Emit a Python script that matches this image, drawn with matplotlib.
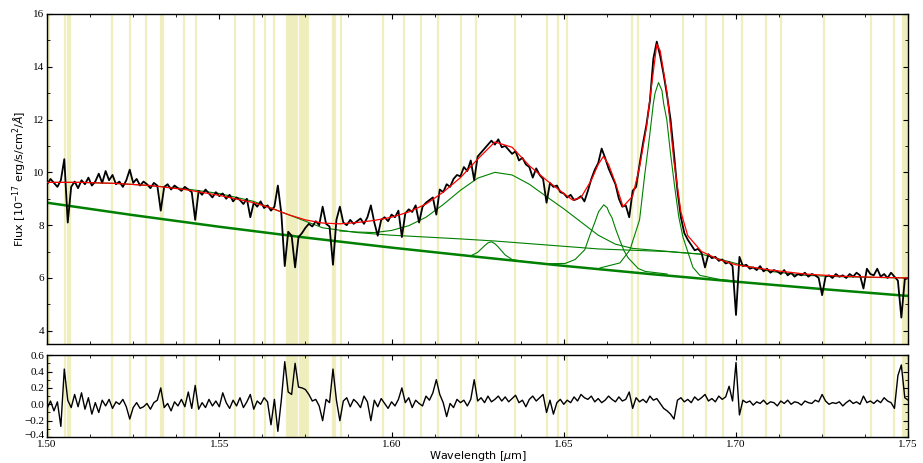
import numpy as np
import matplotlib
matplotlib.use("Agg")
import matplotlib.pyplot as plt
from matplotlib.ticker import MultipleLocator
from matplotlib.transforms import ScaledTranslation

# observed spectrum, 1.500 .. 1.750 um in steps of 0.001
wave_start = 1.500
wave_step = 0.001
flux = [
    9.55, 9.75, 9.60, 9.45, 9.70, 10.50, 8.10, 9.45, 9.65, 9.40,
    9.70, 9.55, 9.80, 9.50, 9.65, 9.95, 9.60, 10.05, 9.70, 9.90,
    9.55, 9.65, 9.45, 9.70, 10.10, 9.60, 9.75, 9.50, 9.65, 9.55,
    9.40, 9.60, 9.50, 8.55, 9.45, 9.55, 9.35, 9.50, 9.40, 9.30,
    9.45, 9.35, 9.25, 8.20, 9.30, 9.15, 9.35, 9.20, 9.05, 9.25,
    9.10, 9.20, 9.00, 9.15, 8.90, 9.05, 8.95, 8.80, 9.00, 8.30,
    8.85, 8.70, 8.90, 8.65, 8.75, 8.55, 8.70, 9.50, 8.45, 6.45,
    7.75, 7.60, 6.40, 7.55, 7.70, 7.90, 8.05, 7.95, 8.15, 8.00,
    8.70, 8.05, 7.95, 6.50, 8.20, 8.70, 8.10, 8.00, 8.20, 8.05,
    8.15, 8.25, 8.05, 8.30, 8.75, 8.10, 7.60, 8.20, 8.30, 8.15,
    8.40, 8.30, 8.55, 7.55, 8.45, 8.60, 8.50, 8.75, 8.10, 8.70,
    8.85, 8.95, 9.05, 8.40, 9.35, 9.25, 9.55, 9.45, 9.75, 9.90,
    9.85, 10.20, 10.05, 10.45, 9.70, 10.60, 10.75, 10.90, 11.05, 11.20,
    11.05, 11.25, 10.95, 11.00, 10.85, 10.70, 10.80, 10.45, 10.55, 10.30,
    10.20, 9.80, 10.15, 9.90, 9.75, 8.85, 9.60, 9.45, 9.50, 9.25,
    9.20, 9.05, 9.15, 8.95, 9.00, 9.10, 8.90, 9.30, 9.75, 10.10,
    10.35, 10.90, 10.55, 10.15, 9.85, 9.55, 9.00, 8.70, 8.75, 8.30,
    9.30, 9.45, 10.30, 11.10, 11.80, 12.70, 14.30, 14.95, 14.40, 13.70,
    12.90, 12.00, 10.70, 9.30, 8.30, 7.70, 7.45, 7.25, 7.05, 7.10,
    6.95, 6.40, 6.90, 6.75, 6.80, 6.65, 6.70, 6.55, 6.60, 6.45,
    4.60, 6.80, 6.45, 6.50, 6.35, 6.40, 6.30, 6.45, 6.25, 6.35,
    6.20, 6.30, 6.25, 6.15, 6.30, 6.10, 6.20, 6.05, 6.15, 6.10,
    6.20, 6.05, 6.15, 6.10, 6.00, 5.35, 6.05, 6.10, 6.00, 6.15,
    6.05, 6.10, 6.00, 6.15, 6.05, 6.20, 6.10, 5.60, 6.35, 6.15,
    6.10, 6.35, 6.05, 6.15, 6.00, 6.20, 6.05, 5.90, 4.50, 5.95,
    6.00,
]
resid = [
    -0.05, 0.04, -0.08, 0.03, -0.27, 0.43, 0.05, -0.04, 0.12, -0.03,
    0.14, -0.06, 0.08, -0.12, 0.02, -0.10, 0.05, -0.02, 0.06, -0.05,
    0.03, 0.00, 0.06, -0.03, -0.18, -0.04, 0.02, -0.05, -0.03, 0.01,
    -0.06, 0.02, 0.05, 0.20, -0.04, 0.01, -0.08, 0.03, -0.02, 0.06,
    -0.03, 0.15, -0.05, 0.23, -0.06, 0.02, -0.04, 0.06, -0.02, 0.04,
    -0.03, 0.14, 0.02, -0.05, 0.05, -0.02, 0.08, -0.04, 0.03, 0.12,
    -0.06, 0.04, 0.00, 0.08, 0.03, -0.25, 0.06, -0.33, 0.05, 0.52,
    0.15, 0.12, 0.50, 0.21, 0.20, 0.18, 0.12, 0.04, 0.06, -0.02,
    -0.20, 0.06, 0.02, 0.43, 0.05, -0.20, 0.04, 0.08, -0.03, 0.06,
    0.02, -0.04, 0.10, 0.03, -0.20, 0.05, -0.03, 0.07, 0.01, -0.05,
    0.03, -0.02, 0.06, 0.20, 0.02, 0.08, -0.04, 0.05, 0.01, -0.02,
    0.10, 0.05, 0.14, 0.30, 0.12, 0.02, -0.15, 0.01, -0.04, 0.06,
    0.02, 0.05, -0.02, 0.06, 0.30, 0.04, 0.08, 0.02, 0.10, 0.03,
    0.06, 0.10, 0.04, 0.09, 0.03, 0.07, 0.11, 0.02, 0.05, -0.03,
    0.06, 0.10, 0.04, 0.08, 0.12, -0.10, 0.05, -0.12, 0.02, 0.06,
    0.00, 0.05, 0.02, 0.09, 0.04, 0.12, 0.08, 0.06, 0.10, 0.03,
    0.07, 0.02, 0.05, 0.10, 0.06, 0.03, 0.09, 0.04, 0.06, 0.15,
    -0.05, 0.08, 0.03, 0.06, 0.02, 0.10, 0.05, 0.07, 0.01, -0.05,
    -0.08, -0.12, -0.18, 0.05, 0.08, 0.03, 0.06, 0.02, 0.09, 0.05,
    0.08, 0.12, 0.04, 0.07, 0.03, 0.10, 0.06, 0.09, 0.22, 0.04,
    0.51, -0.13, 0.05, 0.02, 0.04, -0.01, 0.03, 0.01, 0.05, 0.00,
    0.03, 0.02, -0.02, 0.04, 0.01, 0.05, 0.00, 0.03, 0.02, -0.01,
    0.04, 0.02, 0.01, 0.05, 0.03, 0.12, 0.04, 0.00, 0.02, 0.01,
    0.03, -0.02, 0.02, 0.05, 0.01, 0.03, 0.00, 0.10, 0.02, 0.04,
    0.01, 0.05, 0.02, 0.08, 0.04, 0.02, -0.05, 0.35, 0.48, 0.08,
    0.05,
]

# fitted model pieces
pl_wave = [1.500, 1.525, 1.550, 1.575, 1.600, 1.625, 1.650, 1.675, 1.700, 1.725, 1.750]
pl_flux = [8.85, 8.38, 7.94, 7.53, 7.15, 6.80, 6.46, 6.15, 5.86, 5.58, 5.32]

base_wave = [1.500, 1.510, 1.520, 1.530, 1.540, 1.550, 1.560, 1.570, 1.580, 1.590, 1.600,
             1.610, 1.620, 1.630, 1.640, 1.650, 1.660, 1.670, 1.680, 1.690, 1.700,
             1.710, 1.720, 1.730, 1.740, 1.750]
base_flux = [9.62, 9.62, 9.58, 9.50, 9.38, 9.20, 8.90, 8.40, 7.90, 7.72, 7.62,
             7.55, 7.48, 7.40, 7.30, 7.20, 7.10, 7.05, 7.00, 6.90, 6.55,
             6.25, 6.10, 6.05, 6.02, 6.00]

hb_wave = [1.585, 1.590, 1.595, 1.600, 1.605, 1.610, 1.615, 1.620, 1.625, 1.630, 1.635,
           1.640, 1.645, 1.650, 1.655, 1.660, 1.665, 1.670, 1.680, 1.690]
hb_flux = [7.78, 7.74, 7.72, 7.80, 7.98, 8.30, 8.78, 9.32, 9.78, 10.00, 9.90,
           9.55, 9.08, 8.62, 8.12, 7.62, 7.28, 7.12, 7.01, 6.90]

nhb_wave = [1.615, 1.620, 1.623, 1.625, 1.627, 1.628, 1.629, 1.630, 1.631, 1.633, 1.635, 1.638, 1.645]
nhb_flux = [6.94, 6.87, 6.84, 6.97, 7.22, 7.33, 7.37, 7.30, 7.17, 6.87, 6.70, 6.63, 6.53]

o3a_wave = [1.6446, 1.6504, 1.6533, 1.6561, 1.6576, 1.6590, 1.6601, 1.6616, 1.6626, 1.6631,
            1.6640, 1.6651, 1.6663, 1.6675, 1.6687, 1.6716, 1.6736, 1.6800]
o3a_flux = [6.54, 6.55, 6.70, 7.07, 7.63, 8.10, 8.51, 8.77, 8.66, 8.49,
            8.28, 7.84, 7.42, 7.03, 6.76, 6.36, 6.25, 6.15]

o3b_wave = [1.6605, 1.6663, 1.6692, 1.6720, 1.6735, 1.6749, 1.6760, 1.6765, 1.6775, 1.6785,
            1.6790, 1.6799, 1.6810, 1.6822, 1.6834, 1.6846, 1.6875, 1.6895, 1.6950, 1.7000]
o3b_flux = [6.38, 6.57, 7.06, 8.20, 9.90, 11.35, 12.60, 13.00, 13.40, 13.10,
            12.60, 12.00, 10.70, 9.45, 8.30, 7.55, 6.40, 6.10, 5.95, 5.88]

model_wave = [1.500, 1.510, 1.520, 1.530, 1.540, 1.550, 1.560, 1.565, 1.570, 1.575, 1.580,
              1.585, 1.590, 1.595, 1.600, 1.605, 1.610, 1.615, 1.620, 1.625, 1.630,
              1.635, 1.640, 1.645, 1.650, 1.6526, 1.655, 1.658, 1.660, 1.6615, 1.663,
              1.665, 1.6672, 1.670, 1.672, 1.674, 1.6755, 1.677, 1.678, 1.680, 1.682,
              1.684, 1.686, 1.690, 1.695, 1.700, 1.710, 1.720, 1.730, 1.740, 1.750]
model_flux = [9.62, 9.62, 9.58, 9.50, 9.35, 9.13, 8.85, 8.65, 8.40, 8.20, 8.08,
              8.05, 8.10, 8.18, 8.30, 8.50, 8.80, 9.25, 9.80, 10.50, 11.15,
              10.95, 10.25, 9.70, 9.20, 8.95, 9.05, 9.70, 10.30, 10.60, 10.30,
              9.60, 8.70, 9.10, 10.20, 11.70, 13.30, 14.85, 14.60, 13.00, 10.40,
              8.50, 7.60, 7.00, 6.70, 6.50, 6.30, 6.15, 6.07, 6.03, 6.00]

# masked sky lines
sky_lines = [1.5003, 1.5007, 1.5052, 1.5061, 1.5068, 1.5189, 1.5241, 1.5287, 1.5331, 1.5337,
             1.5398, 1.5432, 1.5546, 1.5602, 1.5633, 1.5660, 1.5697, 1.5703, 1.5709, 1.5715,
             1.5721, 1.5727, 1.5733, 1.5739, 1.5745, 1.5751, 1.5757, 1.5830, 1.5836, 1.5852,
             1.5975, 1.6036, 1.6085, 1.6135, 1.6201, 1.6245, 1.6358, 1.6450, 1.6483, 1.6509,
             1.6699, 1.6715, 1.6846, 1.6912, 1.6962, 1.7017, 1.7087, 1.7130, 1.7255, 1.7391,
             1.7458, 1.7484, 1.7490, 1.7496]

wave = wave_start + wave_step * np.arange(len(flux))

plt.rcParams["font.family"] = ["Liberation Serif", "DejaVu Serif"]
plt.rcParams["mathtext.fontset"] = "dejavusans"

fig = plt.figure(figsize=(9.23, 4.63), dpi=100)
ax = fig.add_axes([0.051, 0.257, 0.933, 0.713])
axr = fig.add_axes([0.051, 0.056, 0.933, 0.177])

green = "#008000"
for a in (ax, axr):
    for w in sky_lines:
        a.axvline(w, color="#ecebb0", lw=1.6, alpha=0.8, zorder=0)

ax.plot(pl_wave, pl_flux, color=green, lw=1.8, zorder=2)
ax.plot(base_wave, base_flux, color=green, lw=0.8, zorder=2)
ax.plot(hb_wave, hb_flux, color=green, lw=0.8, zorder=2)
ax.plot(nhb_wave, nhb_flux, color=green, lw=0.8, zorder=2)
ax.plot(o3a_wave, o3a_flux, color=green, lw=0.8, zorder=2)
ax.plot(o3b_wave, o3b_flux, color=green, lw=0.8, zorder=2)
ax.plot(wave, flux, color="black", lw=1.3, zorder=3)
ax.plot(model_wave, model_flux, color="red", lw=0.9, zorder=4)

axr.plot(wave, resid, color="black", lw=1.0, zorder=3)

ax.set_xlim(1.50, 1.75)
ax.set_ylim(3.5, 16)
axr.set_xlim(1.50, 1.75)
axr.set_ylim(-0.4, 0.6)

for a in (ax, axr):
    a.xaxis.set_major_locator(MultipleLocator(0.05))
    a.xaxis.set_minor_locator(MultipleLocator(0.0125))
    a.tick_params(which="both", direction="in", top=True, right=True, labelsize=8, pad=2)
    a.tick_params(which="major", length=3.5, width=0.8)
    a.tick_params(which="minor", length=2, width=0.6)
    for s in a.spines.values():
        s.set_linewidth(1.0)

ax.yaxis.set_major_locator(MultipleLocator(2))
ax.yaxis.set_minor_locator(MultipleLocator(1))
ax.tick_params(labelbottom=False)
axr.yaxis.set_major_locator(MultipleLocator(0.2))
axr.yaxis.set_minor_locator(MultipleLocator(0.1))
axr.set_xticks([1.50, 1.55, 1.60, 1.65, 1.70, 1.75])
axr.set_xticklabels(["1.50", "1.55", "1.60", "1.65", "1.70", "1.75"])
axr.set_yticks([-0.4, -0.2, 0.0, 0.2, 0.4, 0.6])
axr.set_yticklabels(["\u22120.4", "\u22120.2", "0.0", "0.2", "0.4", "0.6"])

# keep the lowest residual label clear of the first wavelength label
lowest = axr.get_yticklabels()[0]
lowest.set_transform(lowest.get_transform() + ScaledTranslation(0, 2 / 72, fig.dpi_scale_trans))

ax.set_ylabel(r"Flux $[10^{-17}$ erg/s/cm$^2/\AA]$", family="DejaVu Sans", fontsize=8, labelpad=3)
axr.set_xlabel(r"Wavelength $[\mu$m$]$", family="DejaVu Sans", fontsize=8, labelpad=0)

fig.savefig("out.png", dpi=100)
